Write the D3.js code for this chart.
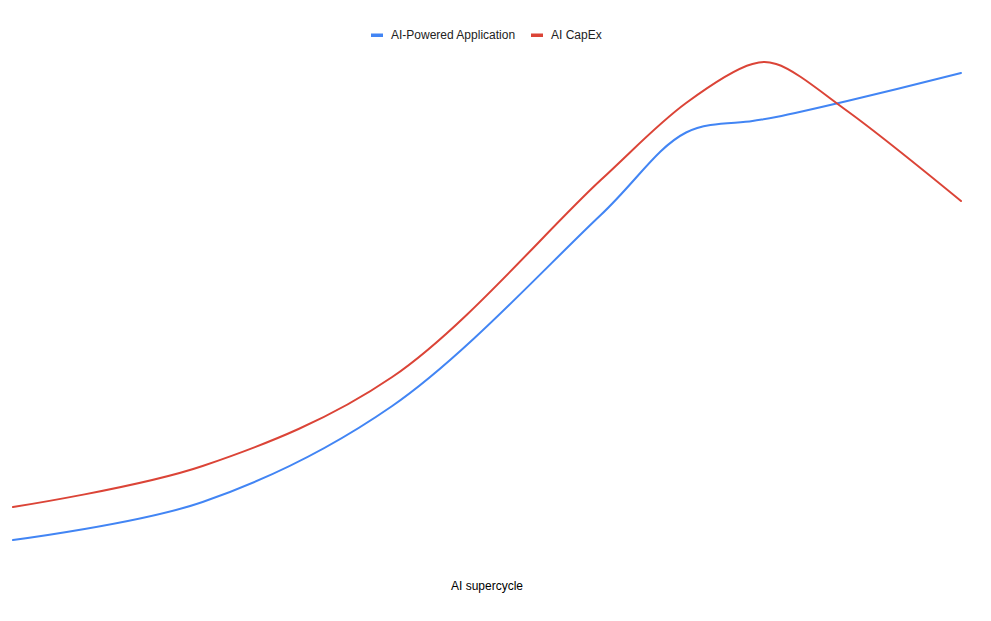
<!DOCTYPE html>
<html>
<head>
<meta charset="utf-8">
<script src="https://cdn.jsdelivr.net/npm/d3@7"></script>
<style>
  html, body { margin: 0; padding: 0; background: #fff; }
  svg { display: block; font-family: "Liberation Sans", Arial, sans-serif; }
</style>
</head>
<body>
<svg id="chart" width="991" height="621"></svg>
<script>
// Position along the supercycle (0–100)
const cyclePosition = [0, 20, 40, 62, 71, 78, 80.5, 88, 100];
// Series values (relative index)
const aiPoweredApplication = [4, 11.6, 30.8, 69, 85.5, 87.8, 88.6, 91.8, 97.4];
const aiCapEx = [10.6, 18.8, 36.6, 76, 91.4, 99.2, 99.2, 89.8, 71.8];
const seriesNames = ["AI-Powered Application", "AI CapEx"];
const seriesColors = ["#4285f4", "#db4437"];
const xAxisTitle = "AI supercycle";

const svg = d3.select("#chart");
const margin = { left: 13, right: 30, top: 60, bottom: 61 };
const W = 991, H = 621;

const x = d3.scaleLinear().domain([0, 100]).range([margin.left, W - margin.right]);
const y = d3.scaleLinear().domain([0, 100]).range([H - margin.bottom, margin.top]);

const series = [aiPoweredApplication, aiCapEx].map((vals, i) => ({
  name: seriesNames[i],
  color: seriesColors[i],
  points: cyclePosition.map((t, j) => ({ t, v: vals[j] }))
}));

const line = d3.line()
  .x(d => x(d.t))
  .y(d => y(d.v))
  .curve(d3.curveCatmullRom.alpha(0.5));

svg.append("g").selectAll("path")
  .data(series)
  .join("path")
  .attr("d", d => line(d.points))
  .attr("fill", "none")
  .attr("stroke", d => d.color)
  .attr("stroke-width", 2)
  .attr("stroke-linejoin", "round")
  .attr("stroke-linecap", "round");

// Legend
const legend = svg.append("g").attr("font-size", 12).attr("fill", "#222");
const legendItems = [
  { x0: 371, name: seriesNames[0], color: seriesColors[0] },
  { x0: 531, name: seriesNames[1], color: seriesColors[1] }
];
legendItems.forEach(it => {
  legend.append("rect")
    .attr("x", it.x0).attr("y", 33.5)
    .attr("width", 12).attr("height", 3.5)
    .attr("fill", it.color);
  legend.append("text")
    .attr("x", it.x0 + 20).attr("y", 39)
    .attr("fill", "#222")
    .text(it.name);
});

// X axis title
svg.append("text")
  .attr("x", (x.range()[0] + x.range()[1]) / 2)
  .attr("y", 590)
  .attr("text-anchor", "middle")
  .attr("font-size", 12)
  .attr("fill", "#000")
  .text(xAxisTitle);
</script>
</body>
</html>
